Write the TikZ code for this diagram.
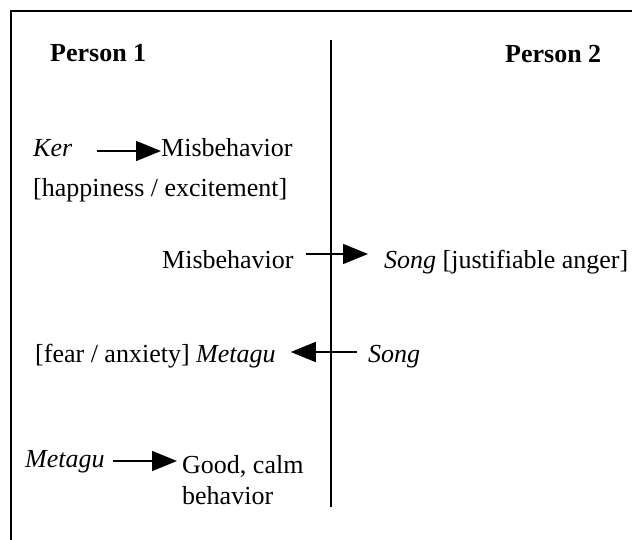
\documentclass[tikz,border=0pt]{standalone}
\usepackage{fontspec}
\setmainfont{Liberation Serif}
\usetikzlibrary{arrows.meta}
\begin{document}
\begin{tikzpicture}[x=1pt,y=-1pt,
  lbl/.style={inner sep=0pt, font=\fontsize{26}{31}\selectfont, anchor=base west},
  hdr/.style={inner sep=0pt, font=\fontsize{26}{31}\selectfont\bfseries, anchor=base west},
  arr/.style={line width=1.6pt, -{Triangle[length=25pt,width=20pt]}},
  rulel/.style={line width=2pt},
  divl/.style={line width=1.6pt}]
\fill[white] (0,0) rectangle (632,540);
\useasboundingbox (0,0) rectangle (632,540);
% frame
\coordinate (fr) at (632,11);
\coordinate (fc) at (11,11);
\coordinate (fb) at (11,540);
\draw[rulel] (fr) -- (fc) -- (fb);
% divider
\coordinate (dt) at (331,40);
\coordinate (db) at (331,507);
\draw[divl] (dt) -- (db);
% headers
\node[hdr] (p1) at (50,62) {Person 1};
\node[hdr] (p2) at (505,63) {Person 2};
% texts
\node[lbl] (ker) at (33,157) {\textit{Ker}};
\node[lbl] (mis1) at (161,157) {Misbehavior};
\node[lbl] (hap) at (33,197) {[happiness / excitement]};
\node[lbl] (mis2) at (162,269) {Misbehavior};
\node[lbl] (song1) at (384,269) {\textit{Song} [justifiable anger]};
\node[lbl] (fear) at (35,362) {[fear / anxiety] \textit{Metagu}};
\node[lbl] (song2) at (368,362) {\textit{Song}};
\node[lbl] (met) at (25,467) {\textit{Metagu}};
\node[lbl] (good) at (182,473) {Good, calm};
\node[lbl] (beh) at (182,504) {behavior};
% arrows
\draw[arr] ([xshift=25pt,yshift=6pt]ker.base east) -- ([yshift=6pt]mis1.base west);
\draw[arr] ([xshift=12pt,yshift=15pt]mis2.base east) -- ([xshift=-16pt,yshift=15pt]song1.base west);
\draw[arr] ([xshift=-11pt,yshift=10pt]song2.base west) -- ([xshift=15pt,yshift=10pt]fear.base east);
\draw[arr] ([xshift=8pt,yshift=6pt]met.base east) -- ([xshift=-5pt,yshift=12pt]good.base west);
\end{tikzpicture}
\end{document}
